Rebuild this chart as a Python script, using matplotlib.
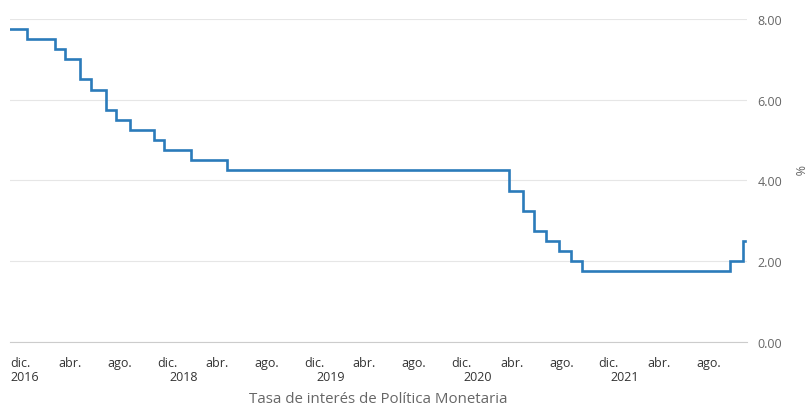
import matplotlib
matplotlib.use('Agg')
import matplotlib.pyplot as plt
import matplotlib.dates as mdates
import matplotlib.transforms as mtransforms
import pandas as pd

plt.rcParams['font.family'] = ['Open Sans', 'DejaVu Sans']

# Dates when the policy rate changed and the new rate
change_dates = ['2016-12-01', '2017-01-12', '2017-03-23', '2017-04-17',
                '2017-05-24', '2017-06-20', '2017-07-28', '2017-08-21',
                '2017-09-25', '2017-11-24', '2017-12-19', '2018-02-24',
                '2018-05-24', '2020-04-22', '2020-05-29', '2020-06-25',
                '2020-07-25', '2020-08-26', '2020-09-25', '2020-10-22',
                '2021-10-23', '2021-11-24', '2021-12-01']
rates = [7.75, 7.50, 7.25, 7.00, 6.50, 6.25, 5.75, 5.50, 5.25, 5.00, 4.75,
         4.50, 4.25, 3.75, 3.25, 2.75, 2.50, 2.25, 2.00, 1.75, 2.00, 2.50,
         2.50]

month_ticks = pd.date_range('2016-12-01', '2021-08-01', freq='4MS')
month_names = {12: 'dic.', 4: 'abr.', 8: 'ago.'}
year_label_dates = ['2016-12-01', '2018-01-01', '2019-01-01', '2020-01-01',
                    '2021-01-01']
year_labels = ['2016', '2018', '2019', '2020', '2021']
y_ticks = [0, 2, 4, 6, 8]

LINE = '#2b7bba'
GRID = '#e6e6e6'
TEXT = '#666666'

fig = plt.figure(figsize=(8.05, 4.06), dpi=100)
ax = fig.add_axes([0.0124, 0.155, 0.915, 0.796])

x = pd.to_datetime(change_dates)
ax.step(x, rates, where='post', color=LINE, linewidth=1.9,
        solid_joinstyle='miter', zorder=3)

ax.set_xlim(pd.Timestamp('2016-12-01'), pd.Timestamp('2021-12-04'))
ax.set_ylim(0, 8)

ax.yaxis.tick_right()
ax.set_yticks(y_ticks)
ax.set_yticklabels([f'{v:.2f}' for v in y_ticks])
ax.tick_params(axis='y', length=0, pad=8, labelcolor=TEXT, labelsize=9)

ax.set_xticks(month_ticks)
ax.set_xticklabels([month_names[d.month] for d in month_ticks])
ax.tick_params(axis='x', length=0, pad=10, labelcolor='#333333',
               labelsize=9)
for lbl in ax.get_xticklabels():
    lbl.set_horizontalalignment('left')

trans = mtransforms.blended_transform_factory(ax.transData, ax.transAxes)
for d, t in zip(year_label_dates, year_labels):
    ax.text(mdates.date2num(pd.Timestamp(d)), -0.085, t, transform=trans,
            ha='left', va='top', fontsize=9, color='#333333')

# axis titles placed in figure coordinates
fig.text(0.47, 0.016, 'Tasa de interés de Política Monetaria', color=TEXT,
         fontsize=10.8, ha='center', va='center')
fig.text(0.991, 0.58, '%', color=TEXT, fontsize=9, rotation=270,
         ha='center', va='center')

ax.grid(axis='y', color=GRID, linewidth=0.8)
ax.grid(axis='x', visible=False)
for side in ['top', 'right', 'left']:
    ax.spines[side].set_visible(False)
ax.spines['bottom'].set_color('#cccccc')
ax.spines['bottom'].set_linewidth(0.8)

fig.savefig('out.png', dpi=100, facecolor='white')
